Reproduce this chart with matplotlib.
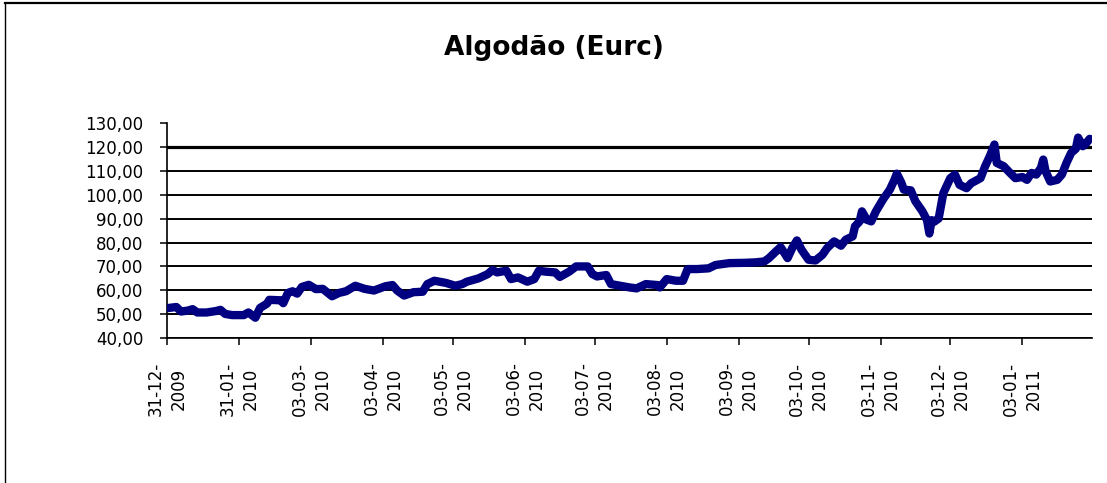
# Gráfico da cotação do algodão (Eurc) entre dez/2009 e jan/2011,
# no estilo de um gráfico de linha do Excel.

import matplotlib
matplotlib.use("Agg")
import matplotlib.pyplot as plt
import matplotlib.dates as mdates
from matplotlib.lines import Line2D
from matplotlib.ticker import FuncFormatter
import pandas as pd

nome_arquivo_saida = 'out.png'
titulo = 'Algodão (Eurc)'

datas = [
    "2009-12-31", "2010-01-04", "2010-01-06", "2010-01-09", "2010-01-11",
    "2010-01-13", "2010-01-17", "2010-01-21", "2010-01-23", "2010-01-25",
    "2010-01-28", "2010-02-02", "2010-02-04", "2010-02-07", "2010-02-09",
    "2010-02-12", "2010-02-13", "2010-02-18", "2010-02-19", "2010-02-21",
    "2010-02-23", "2010-02-25", "2010-02-27", "2010-03-02", "2010-03-05",
    "2010-03-08", "2010-03-12", "2010-03-15", "2010-03-18", "2010-03-22",
    "2010-03-26", "2010-03-30", "2010-04-04", "2010-04-07", "2010-04-09",
    "2010-04-12", "2010-04-16", "2010-04-20", "2010-04-22", "2010-04-25",
    "2010-04-30", "2010-05-04", "2010-05-07", "2010-05-09", "2010-05-14",
    "2010-05-18", "2010-05-20", "2010-05-22", "2010-05-26", "2010-05-28",
    "2010-05-31", "2010-06-04", "2010-06-07", "2010-06-09", "2010-06-12",
    "2010-06-16", "2010-06-18", "2010-06-22", "2010-06-25", "2010-06-30",
    "2010-07-02", "2010-07-04", "2010-07-08", "2010-07-10", "2010-07-14",
    "2010-07-18", "2010-07-21", "2010-07-25", "2010-07-30", "2010-07-31",
    "2010-08-03", "2010-08-07", "2010-08-10", "2010-08-12", "2010-08-16",
    "2010-08-21", "2010-08-24", "2010-08-30", "2010-09-05", "2010-09-10",
    "2010-09-14", "2010-09-16", "2010-09-19", "2010-09-21", "2010-09-24",
    "2010-09-26", "2010-09-28", "2010-09-30", "2010-10-03", "2010-10-06",
    "2010-10-09", "2010-10-11", "2010-10-14", "2010-10-17", "2010-10-19",
    "2010-10-22", "2010-10-23", "2010-10-25", "2010-10-26", "2010-10-28",
    "2010-10-30", "2010-11-01", "2010-11-04", "2010-11-07", "2010-11-09",
    "2010-11-10", "2010-11-12", "2010-11-13", "2010-11-16", "2010-11-18",
    "2010-11-21", "2010-11-23", "2010-11-24", "2010-11-25", "2010-11-26",
    "2010-11-28", "2010-11-30", "2010-12-03", "2010-12-05", "2010-12-07",
    "2010-12-10", "2010-12-12", "2010-12-16", "2010-12-18", "2010-12-20",
    "2010-12-22", "2010-12-23", "2010-12-26", "2010-12-28", "2010-12-31",
    "2011-01-03", "2011-01-05", "2011-01-07", "2011-01-09", "2011-01-11",
    "2011-01-12", "2011-01-13", "2011-01-15", "2011-01-18", "2011-01-20",
    "2011-01-22", "2011-01-24", "2011-01-26", "2011-01-27", "2011-01-29",
    "2011-01-30", "2011-02-01",
]

valores = [
    52.5, 53.0, 51.1, 51.5, 52.1,
    50.7, 50.7, 51.3, 51.8, 50.1,
    49.6, 49.6, 50.7, 48.5, 52.6,
    54.4, 56.0, 55.8, 54.6, 58.9,
    59.6, 58.6, 61.4, 62.3, 60.5,
    60.6, 57.5, 58.9, 59.6, 61.9,
    60.6, 59.9, 61.7, 62.2, 59.9,
    57.8, 59.2, 59.4, 62.6, 64.0,
    63.1, 61.9, 62.6, 63.6, 65.0,
    66.8, 68.5, 67.5, 68.2, 64.7,
    65.4, 63.6, 64.7, 68.2, 67.8,
    67.5, 65.6, 67.8, 70.0, 70.0,
    66.8, 65.8, 66.4, 62.6, 61.9,
    61.2, 60.8, 62.6, 62.2, 61.2,
    64.7, 64.0, 64.0, 68.9, 68.9,
    69.2, 70.6, 71.4, 71.5, 71.7,
    72.1, 73.5, 76.3, 78.1, 73.5,
    77.7, 80.9, 77.0, 72.8, 72.5,
    74.9, 77.7, 80.5, 78.7, 81.2,
    82.6, 86.8, 88.9, 93.1, 89.6,
    88.9, 93.1, 98.0, 102.2, 106.4,
    108.9, 105.0, 102.2, 101.9, 97.3,
    93.1, 89.4, 83.8, 89.4, 88.7,
    90.1, 100.7, 107.0, 108.5, 104.2,
    102.8, 104.9, 107.0, 112.0, 116.2,
    121.1, 113.4, 112.0, 109.9, 107.0,
    107.5, 106.3, 109.2, 108.5, 111.3,
    114.8, 109.9, 105.6, 106.3, 108.5,
    113.4, 117.6, 119.3, 124.0, 120.4,
    121.1, 123.5,
]

datas_eixo = [
    "2009-12-31", "2010-01-31", "2010-03-03", "2010-04-03", "2010-05-03",
    "2010-06-03", "2010-07-03", "2010-08-03", "2010-09-03", "2010-10-03",
    "2010-11-03", "2010-12-03", "2011-01-03",
]
limite_x = ("2009-12-31", "2011-02-02")
valores_eixo_y = [40, 50, 60, 70, 80, 90, 100, 110, 120, 130]


def formatar_valor(v, pos=None):
    return f"{v:.2f}".replace('.', ',')


def gerar_grafico(nome_saida):
    plt.rcParams['font.family'] = ['DejaVu Sans']

    fig = plt.figure(figsize=(11.07, 4.83), dpi=100)
    ax = fig.add_axes([0.1509, 0.3002, 0.8356, 0.4445])

    x = pd.to_datetime(datas)
    ax.plot(x, valores, color='#000080', linewidth=6.0,
            solid_capstyle='round', solid_joinstyle='round', zorder=3)

    ax.set_ylim(valores_eixo_y[0], valores_eixo_y[-1])
    ax.set_yticks(valores_eixo_y)
    ax.yaxis.set_major_formatter(FuncFormatter(formatar_valor))

    ax.set_xlim(pd.to_datetime(limite_x[0]), pd.to_datetime(limite_x[1]))
    ax.set_xticks(pd.to_datetime(datas_eixo))
    ax.xaxis.set_major_formatter(mdates.DateFormatter('%d-%m-\n%Y'))

    for rotulo in ax.get_xticklabels():
        rotulo.set_rotation(90)
        rotulo.set_multialignment('center')
        rotulo.set_linespacing(1.35)

    ax.tick_params(axis='both', direction='out', length=5, width=1.1,
                   pad=12, labelsize=12, colors='black')

    # linhas de grade horizontais (sem a de 130)
    ax.yaxis.grid(True, color='black', linewidth=1.4)
    linhas_grade = ax.yaxis.get_gridlines()
    linhas_grade[-1].set_visible(False)
    linhas_grade[-2].set_linewidth(2.3)
    ax.set_axisbelow(True)

    for lado in ['top', 'right']:
        ax.spines[lado].set_visible(False)
    for lado in ['left', 'bottom']:
        ax.spines[lado].set_linewidth(1.2)
        ax.spines[lado].set_color('black')

    fig.text(0.5, 1 - 48 / 483, titulo, ha='center', va='center',
             fontsize=19, fontweight='bold')

    # borda da área do gráfico (parte superior e esquerda)
    fig.add_artist(Line2D([5 / 1107, 1], [1 - 3 / 483, 1 - 3 / 483],
                          transform=fig.transFigure, color='black', linewidth=1.6))
    fig.add_artist(Line2D([5 / 1107, 5 / 1107], [0, 1 - 3 / 483],
                          transform=fig.transFigure, color='black', linewidth=1.0))

    fig.savefig(nome_saida, dpi=100, facecolor='white')
    print(f"Gráfico salvo como '{nome_saida}'")


if __name__ == "__main__":
    gerar_grafico(nome_arquivo_saida)
